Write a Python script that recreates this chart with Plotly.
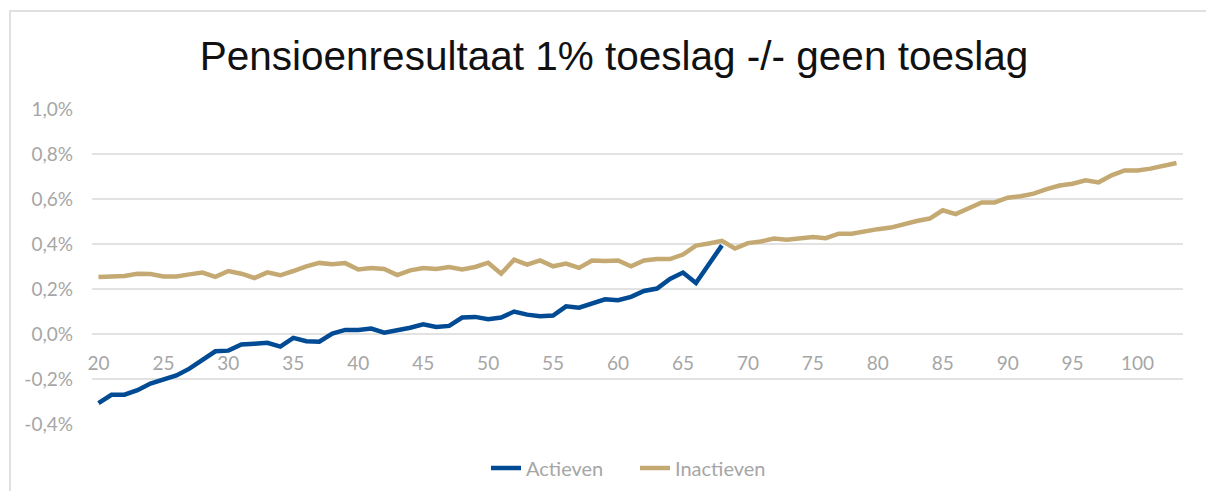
import plotly.graph_objects as go

ages_act = list(range(20, 69))
actieven = [-0.307, -0.270, -0.270, -0.250, -0.220, -0.203, -0.184, -0.154, -0.114, -0.077,
            -0.074, -0.047, -0.043, -0.039, -0.056, -0.017, -0.032, -0.034, 0.002, 0.018,
            0.018, 0.024, 0.006, 0.016, 0.028, 0.043, 0.031, 0.036, 0.073, 0.076,
            0.066, 0.073, 0.100, 0.086, 0.079, 0.082, 0.123, 0.117, 0.135, 0.154,
            0.150, 0.165, 0.191, 0.202, 0.245, 0.273, 0.227, 0.313, 0.394]

ages_inact = list(range(20, 104))
inactieven = [0.253, 0.257, 0.258, 0.268, 0.267, 0.256, 0.256, 0.265, 0.273, 0.254,
              0.280, 0.268, 0.249, 0.274, 0.261, 0.280, 0.301, 0.316, 0.310, 0.315,
              0.287, 0.293, 0.289, 0.262, 0.283, 0.293, 0.289, 0.298, 0.287, 0.298,
              0.317, 0.268, 0.330, 0.308, 0.327, 0.301, 0.313, 0.294, 0.327, 0.324,
              0.327, 0.301, 0.327, 0.333, 0.333, 0.353, 0.393, 0.402, 0.414, 0.380,
              0.404, 0.411, 0.424, 0.419, 0.427, 0.431, 0.426, 0.446, 0.446, 0.458,
              0.466, 0.473, 0.490, 0.502, 0.513, 0.550, 0.533, 0.557, 0.585, 0.585,
              0.606, 0.612, 0.624, 0.644, 0.660, 0.668, 0.683, 0.674, 0.705, 0.727,
              0.727, 0.735, 0.750, 0.760]

x_ticks = list(range(20, 101, 5))
y_ticks = [-0.4, -0.2, 0.0, 0.2, 0.4, 0.6, 0.8, 1.0]
y_tick_labels = ["-0,4%", "-0,2%", "0,0%", "0,2%", "0,4%", "0,6%", "0,8%", "1,0%"]

title_text = "Pensioenresultaat 1% toeslag -/- geen toeslag"

BLUE = "#004B93"
GOLD = "#C4A973"
GREY = "#A6A6A6"
GRID = "#E2E2E2"
FONT = "Lato, Liberation Sans"

fig = go.Figure()
fig.add_trace(go.Scatter(x=ages_act, y=actieven, mode="lines", name="Actieven",
                         line=dict(color=BLUE, width=4.5)))
fig.add_trace(go.Scatter(x=ages_inact, y=inactieven, mode="lines", name="Inactieven",
                         line=dict(color=GOLD, width=4.5)))

ymin, ymax = -0.4, 1.0
zero_pos = (0 - ymin) / (ymax - ymin)

fig.update_layout(
    width=1206, height=491,
    margin=dict(l=92, r=23, t=109, b=67, autoexpand=False),
    paper_bgcolor="white", plot_bgcolor="white",
    title=dict(text=title_text, x=614 / 1206, xref="container", xanchor="center",
               y=1 - 56 / 491, yref="container", yanchor="middle",
               font=dict(family="Liberation Sans, Arial", size=40.5, color="#111111")),
    showlegend=True,
    legend=dict(orientation="h", x=635 / 1206, xref="container", xanchor="center",
                y=1 - 468 / 491, yref="container", yanchor="middle",
                font=dict(family=FONT, size=20, color=GREY),
                itemwidth=30, entrywidth=104, entrywidthmode="pixels",
                bgcolor="rgba(0,0,0,0)"),
    xaxis=dict(range=[19.5, 103.5], tickvals=x_ticks, showgrid=False, zeroline=False,
               showline=False, ticks="", anchor="free", position=zero_pos,
               ticklabelstandoff=16, automargin=False,
               tickfont=dict(family=FONT, size=19, color=GREY)),
    yaxis=dict(range=[ymin, ymax], tickvals=y_ticks, ticktext=y_tick_labels,
               showgrid=True, gridcolor=GRID, gridwidth=1.5, zeroline=False,
               showline=False, ticks="", ticklabelstandoff=18, automargin=False,
               tickfont=dict(family=FONT, size=19, color=GREY)),
)

# chart-area frame (cut off at the right and bottom in the reference)
fig.add_shape(type="rect", xref="paper", yref="paper",
              x0=(10 - 92) / 1091, x1=1.2, y0=-0.4, y1=(424 - 11) / 315,
              line=dict(color="#E0E0E0", width=2), fillcolor="rgba(0,0,0,0)", layer="below")

fig.write_html("out.html", config={"displayModeBar": False},
               post_script="document.body.style.margin='0';")
